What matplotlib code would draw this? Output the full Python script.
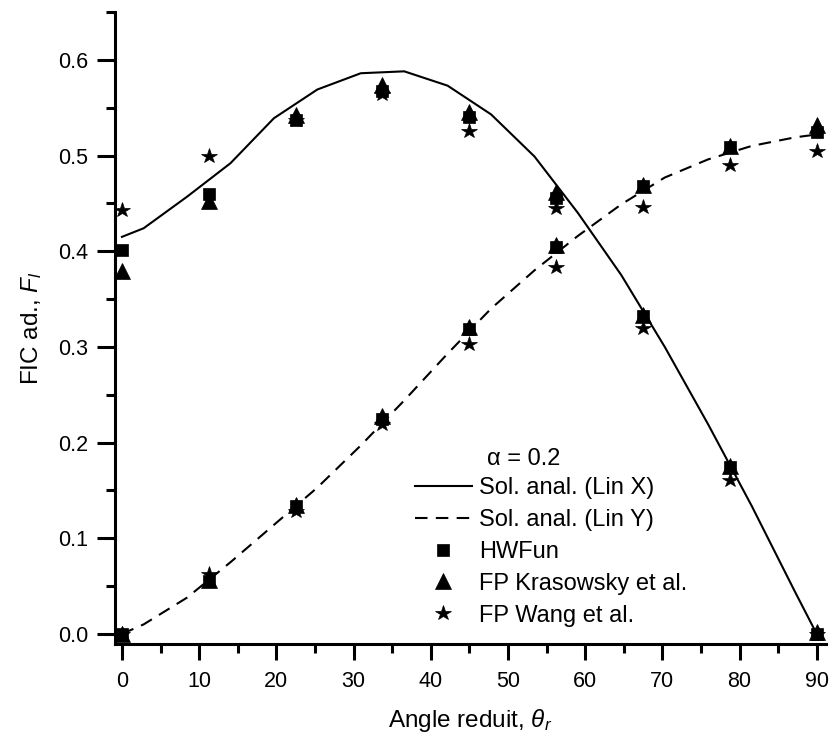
import matplotlib
matplotlib.use("Agg")
import matplotlib.pyplot as plt
from matplotlib.ticker import MultipleLocator, FormatStrFormatter

plt.rcParams['font.family'] = ['Liberation Sans', 'DejaVu Sans']
plt.rcParams['mathtext.fontset'] = 'custom'
plt.rcParams['mathtext.rm'] = 'Liberation Sans'
plt.rcParams['mathtext.it'] = 'Liberation Sans:italic'
plt.rcParams['mathtext.bf'] = 'Liberation Sans:bold'

# ---- data ----
curve_x = [0, 2.8125, 8.4375, 14.0625, 19.6875, 25.3125, 30.9375, 36.5625, 42.1875,
           47.8125, 53.4375, 59.0625, 64.6875, 70.3125, 75.9375, 81.5625, 87.1875, 90]
lin_x = [0.415, 0.424, 0.457, 0.492, 0.539, 0.569, 0.586, 0.588, 0.573,
         0.543, 0.499, 0.440, 0.375, 0.300, 0.219, 0.134, 0.044, 0.0]
lin_y = [0.0, 0.010, 0.038, 0.075, 0.114, 0.153, 0.197, 0.244, 0.293,
         0.340, 0.380, 0.416, 0.449, 0.477, 0.496, 0.510, 0.519, 0.522]

pts_x = [0, 11.25, 22.5, 33.75, 45, 56.25, 67.5, 78.75, 90]
hwfun_x = [0.401, 0.460, 0.537, 0.567, 0.540, 0.456, 0.332, 0.174, 0.0]
hwfun_y = [0.0, 0.055, 0.134, 0.225, 0.319, 0.404, 0.468, 0.509, 0.525]
kras_x = [0.379, 0.452, 0.542, 0.574, 0.545, 0.462, 0.333, 0.176, 0.002]
kras_y = [0.0, 0.056, 0.135, 0.228, 0.321, 0.406, 0.469, 0.510, 0.532]
wang_x = [0.443, 0.499, 0.537, 0.564, 0.526, 0.445, 0.320, 0.161, 0.0]
wang_y = [0.0, 0.063, 0.129, 0.219, 0.303, 0.384, 0.446, 0.490, 0.505]

labels = ['Sol. anal. (Lin X)', 'Sol. anal. (Lin Y)', 'HWFun',
          'FP Krasowsky et al.', 'FP Wang et al.']
xticks = [0, 10, 20, 30, 40, 50, 60, 70, 80, 90]
yticks = [0.0, 0.1, 0.2, 0.3, 0.4, 0.5, 0.6]

W, H = 830, 740
fig = plt.figure(figsize=(W / 100, H / 100), dpi=100)
ax = fig.add_axes([115 / W, 1 - 644 / H, (826 - 115) / W, (644 - 12) / H])

l1, = ax.plot(curve_x, lin_x, color='black', lw=1.5, zorder=2)
l2, = ax.plot(curve_x, lin_y, color='black', lw=1.5, ls=(0, (6, 4)), zorder=2)
m1, = ax.plot(pts_x, hwfun_x, 's', color='black', ms=9, mew=0.5, ls='none', zorder=3)
ax.plot(pts_x, hwfun_y, 's', color='black', ms=9, mew=0.5, ls='none', zorder=3)
m2, = ax.plot(pts_x, kras_x, '^', color='black', ms=11, mew=0.5, ls='none', zorder=3)
ax.plot(pts_x, kras_y, '^', color='black', ms=11, mew=0.5, ls='none', zorder=3)
m3, = ax.plot(pts_x, wang_x, '*', color='black', ms=11.5, mew=0.5, ls='none', zorder=4)
ax.plot(pts_x, wang_y, '*', color='black', ms=11.5, mew=0.5, ls='none', zorder=4)

ax.set_xlim(-0.9, 91.2)
ax.set_ylim(-0.0105, 0.650)

for s in ['top', 'right']:
    ax.spines[s].set_visible(False)
for s in ['left', 'bottom']:
    ax.spines[s].set_linewidth(2.2)

ax.set_xticks(xticks)
ax.set_yticks(yticks)
ax.xaxis.set_minor_locator(MultipleLocator(5))
ax.yaxis.set_minor_locator(MultipleLocator(0.05))
ax.yaxis.set_major_formatter(FormatStrFormatter('%.1f'))
ax.tick_params(axis='y', which='major', direction='out', length=13, width=2.2,
               labelsize=15.5, pad=6)
ax.tick_params(axis='y', which='minor', direction='out', length=6.5, width=2.2)
ax.tick_params(axis='x', which='major', direction='out', length=11.5, width=2.2,
               labelsize=15.5, pad=8)
ax.tick_params(axis='x', which='minor', direction='out', length=6.5, width=2.2)

ax.set_xlabel(r'Angle reduit, $\theta_r$', fontsize=17.5, labelpad=11)
ax.set_ylabel(r'FIC ad., $F_l$', fontsize=17.5, labelpad=10)

fig.text(487 / W, 1 - 459 / H, 'α = 0.2', fontsize=17, ha='left', va='center')
leg = ax.legend([l1, l2, m1, m2, m3], labels, loc='upper left',
                bbox_to_anchor=(415 / W, 1 - 477 / H), bbox_transform=fig.transFigure,
                frameon=False, fontsize=17, handlelength=2.4, handletextpad=0.3,
                borderpad=0, borderaxespad=0, labelspacing=0.42, numpoints=1)

fig.savefig('out.png', dpi=100)
